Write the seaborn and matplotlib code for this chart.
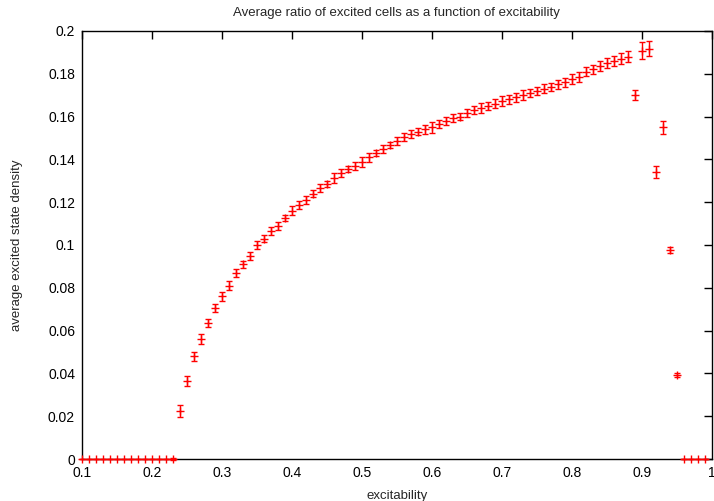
import matplotlib
matplotlib.use("Agg")
import matplotlib.pyplot as plt
import matplotlib.ticker as mticker
import numpy as np
import seaborn as sns

sns.set_theme(style="white")
plt.rcParams["font.family"] = ["Liberation Sans", "DejaVu Sans"]

# excitability values 0.10 .. 0.99
excitability = [round(0.10 + 0.01 * i, 2) for i in range(90)]

density = (
    [0.0] * 14
    + [0.0224, 0.0364, 0.048, 0.056, 0.0636, 0.0706, 0.076, 0.081, 0.087, 0.091,
       0.095, 0.100, 0.103, 0.1065, 0.109, 0.1126, 0.116, 0.1187, 0.121, 0.124,
       0.1266, 0.1285, 0.1313, 0.1336, 0.1355, 0.137, 0.1388, 0.141, 0.143, 0.145,
       0.1467, 0.1486, 0.1505, 0.152, 0.153, 0.154, 0.155, 0.1565, 0.158, 0.1593,
       0.160, 0.1617, 0.163, 0.164, 0.165, 0.166, 0.1673, 0.168, 0.169, 0.170,
       0.171, 0.172, 0.173, 0.1738, 0.175, 0.176, 0.1776, 0.1785, 0.181, 0.182,
       0.1836, 0.185, 0.186, 0.187, 0.188, 0.170, 0.1907, 0.1916, 0.134, 0.155,
       0.0977, 0.0393]
    + [0.0] * 4
)

errors = (
    [0.0] * 13 + [0.0005]
    + [0.0030, 0.0022, 0.0020, 0.0022, 0.0018, 0.0020, 0.0022, 0.0022, 0.0018, 0.0016,
       0.0018, 0.0020, 0.0016, 0.0018, 0.0018, 0.0016, 0.0022, 0.0018, 0.0018, 0.0018,
       0.0020, 0.0016, 0.0022, 0.0018, 0.0016, 0.0020, 0.0022, 0.0020, 0.0016, 0.0018,
       0.0016, 0.0018, 0.0020, 0.0018, 0.0018, 0.0022, 0.0025, 0.0020, 0.0018, 0.0020,
       0.0018, 0.0020, 0.0020, 0.0022, 0.0020, 0.0020, 0.0022, 0.0022, 0.0020, 0.0022,
       0.0020, 0.0018, 0.0020, 0.0020, 0.0022, 0.0022, 0.0025, 0.0022, 0.0022, 0.0022,
       0.0022, 0.0024, 0.0024, 0.0025, 0.0025, 0.0022, 0.0040, 0.0035, 0.0028, 0.0030,
       0.0014, 0.0008]
    + [0.0] * 4
)

fig = plt.figure(figsize=(7.14, 5.01), dpi=100)
ax = fig.add_axes([0.1148, 0.0838, 0.8822, 0.8544])

ax.errorbar(excitability, density, yerr=errors, fmt="+", color="red",
            ecolor="red", elinewidth=1, capsize=2.5, capthick=1,
            markersize=6, markeredgewidth=1, clip_on=False, zorder=3)

ax.set_xlim(0.1, 1.0)
ax.set_ylim(0, 0.2)
ax.xaxis.set_major_locator(mticker.MultipleLocator(0.1))
ax.yaxis.set_major_locator(mticker.MultipleLocator(0.02))
fmt = mticker.FuncFormatter(lambda v, p: "%g" % round(v, 4))
ax.xaxis.set_major_formatter(fmt)
ax.yaxis.set_major_formatter(fmt)

ax.tick_params(direction="in", length=6, width=1, top=True, right=True,
               labelsize=10, colors="black", pad=5)
for s in ax.spines.values():
    s.set_color("black")
    s.set_linewidth(1)

ax.set_title("Average ratio of excited cells as a function of excitability",
             fontsize=9.5, pad=11)
ax.set_xlabel("excitability", fontsize=9.5, labelpad=7)
ax.set_ylabel("average excited state density", fontsize=9.5, labelpad=18)

fig.savefig("out.png", dpi=100)
